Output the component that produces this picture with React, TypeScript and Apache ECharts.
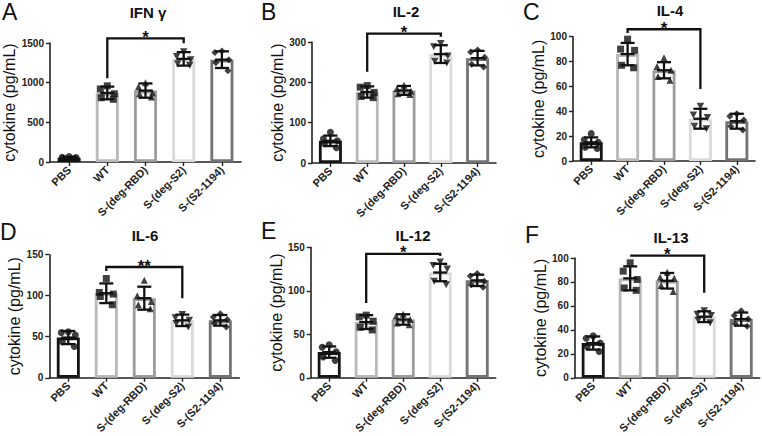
import React, { useEffect, useRef } from 'react';
import * as echarts from 'echarts';

const FONT = '"Liberation Sans", Arial, Helvetica, sans-serif';

const groups = ['PBS', 'WT', 'S-(deg-RBD)', 'S-(deg-S2)', 'S-(S2-1194)'];
const groupColors = ['#151515', '#b9b9b9', '#9c9c9c', '#dadada', '#737373'];
const groupSymbols = ['circle', 'rect', 'triangle', 'path://M0,0L10,0L5,9Z', 'diamond'];
const jitter = [0, -7, 7, -6, 6];

// A: IFN γ
const ifnMeans = [55, 870, 900, 1300, 1290];
const ifnSD = [12, 80, 90, 85, 105];
const ifnPoints = [[70, 60, 55, 45, 40], [960, 920, 860, 810, 790], [1000, 950, 870, 860, 820], [1390, 1330, 1290, 1240, 1220], [1400, 1380, 1290, 1250, 1150]];
const ifnBracket = [1, 3, 1559, 1055, 1496];

// B: IL-2
const il2Means = [55, 176, 180, 270, 260];
const il2SD = [13, 14, 11, 22, 18];
const il2Points = [[76, 60, 55, 48, 38], [192, 188, 175, 165, 162], [193, 185, 178, 172, 170], [296, 288, 265, 252, 248], [280, 275, 262, 245, 238]];
const il2Bracket = [1, 3, 321, 226, 313];

// C: IL-4
const il4Means = [15, 86, 73, 34, 32];
const il4SD = [4, 9, 6.5, 8, 6];
const il4Points = [[22, 17, 15, 11, 10], [98, 90, 89, 77, 75], [83, 76, 73, 68, 65], [44, 37, 35, 28, 26], [38, 36, 33, 28, 25]];
const il4Bracket = [1, 3, 106, 103, 58];

// D: IL-6
const il6Means = [49, 103, 97, 70, 70];
const il6SD = [8, 12, 14, 7, 6.5];
const il6Points = [[56, 55, 52, 44, 38], [121, 104, 102, 99, 89], [119, 100, 93, 89, 84], [77, 73, 70, 66, 62], [78, 74, 71, 66, 62]];
const il6Bracket = [1, 3, 135, 130, 97];

// E: IL-12
const il12Means = [29.5, 64, 67, 121, 112];
const il12SD = [6.5, 8, 6, 10, 6.5];
const il12Points = [[38, 35, 30, 24, 20], [72, 70, 65, 58, 55], [73, 71, 67, 63, 61], [133, 129, 125, 111, 107], [120, 117, 111, 107, 104]];
const il12Bracket = [1, 3, 142.5, 86, 140];

// F: IL-13
const il13Means = [29, 83, 81, 51, 49];
const il13SD = [5.5, 10, 6.5, 4.5, 5.5];
const il13Points = [[35, 33, 29, 26, 22], [96, 89, 82, 75, 73], [88, 84, 83, 77, 72], [56, 53, 52, 48, 46], [56, 52, 49, 45, 43]];
const il13Bracket = [1, 3, 102, 102, 71];

const panelLetters = ['A', 'B', 'C', 'D', 'E', 'F'];
const panelTitles = ['IFN γ', 'IL-2', 'IL-4', 'IL-6', 'IL-12', 'IL-13'];
const panelMax = [1500, 300, 100, 150, 150, 100];
const panelInterval = [500, 100, 20, 50, 50, 20];
const panelStars = ['*', '*', '*', '**', '*', '*'];
const panelMeans = [ifnMeans, il2Means, il4Means, il6Means, il12Means, il13Means];
const panelSD = [ifnSD, il2SD, il4SD, il6SD, il12SD, il13SD];
const panelPoints = [ifnPoints, il2Points, il4Points, il6Points, il12Points, il13Points];
const panelBrackets = [ifnBracket, il2Bracket, il4Bracket, il6Bracket, il12Bracket, il13Bracket];

// layout (pixels)
const grids = [
  { left: 50, top: 43, width: 191, height: 119 },
  { left: 312, top: 42, width: 184, height: 121 },
  { left: 573, top: 36.7, width: 182, height: 124.3 },
  { left: 49.3, top: 254.7, width: 190, height: 127.3 },
  { left: 310.7, top: 247.3, width: 185, height: 134.7 },
  { left: 574.7, top: 258, width: 185, height: 124.3 },
];
const nameGaps = [22, 23, 20, 26, 22, 23];
const titlePos = [[148, 12], [406, 11.5], [670, 10.5], [145, 235], [413, 235.3], [671, 237.5]];
const letterPos = [[2, 12], [261, 12], [523, 12], [0, 232], [261, 231], [525, 235]];

export default function App() {
  const ref = useRef<HTMLDivElement>(null);
  useEffect(() => {
    document.body.style.margin = '0';
    const chart = echarts.init(ref.current!, null, { renderer: 'svg' });

    const xAxis: any[] = [];
    const yAxis: any[] = [];
    const series: any[] = [];
    const graphic: any[] = [];

    for (let i = 0; i < 6; i++) {
      xAxis.push({
        type: 'category',
        gridIndex: i,
        data: groups,
        axisLine: { show: true, lineStyle: { color: '#222', width: 1.6 } },
        axisTick: { show: true, alignWithLabel: true, length: 4, lineStyle: { color: '#222', width: 1.4 } },
        axisLabel: { rotate: 45, interval: 0, fontSize: 11, fontWeight: 'bold', color: '#222', margin: 6, fontFamily: FONT },
      });
      yAxis.push({
        type: 'value',
        gridIndex: i,
        min: 0,
        max: panelMax[i],
        interval: panelInterval[i],
        axisLine: { show: true, lineStyle: { color: '#222', width: 1.6 } },
        axisTick: { show: true, length: 4, lineStyle: { color: '#222', width: 1.4 } },
        splitLine: { show: false },
        axisLabel: {
          fontSize: 10,
          fontWeight: 'bold',
          color: '#222',
          margin: 6,
          fontFamily: FONT,
          formatter: (v: number) => String(v),
        },
        name: 'cytokine (pg/mL)',
        nameLocation: 'middle',
        nameGap: nameGaps[i],
        nameTextStyle: { fontSize: 16, color: '#111', fontFamily: FONT },
      });

      const means = panelMeans[i];
      const sd = panelSD[i];
      series.push({
        type: 'bar',
        xAxisIndex: i,
        yAxisIndex: i,
        barWidth: 23,
        silent: true,
        data: means.map((m, j) => ({
          value: m,
          itemStyle: { color: '#ffffff', borderColor: groupColors[j], borderWidth: 2.8 },
        })),
      });
      series.push({
        type: 'scatter',
        xAxisIndex: i,
        yAxisIndex: i,
        silent: true,
        z: 4,
        data: panelPoints[i].flatMap((pts, j) =>
          pts.map((v, k) => ({
            value: [j, v],
            symbol: groupSymbols[j],
            symbolSize: j === 3 ? [7.5, 7] : 7,
            symbolOffset: [jitter[k], 0],
            itemStyle: { color: '#111' },
          }))
        ),
      });
      series.push({
        type: 'custom',
        xAxisIndex: i,
        yAxisIndex: i,
        silent: true,
        z: 5,
        data: means.map((m, j) => [j, m, sd[j]]),
        renderItem: (params: any, api: any) => {
          const j = api.value(0);
          const m = api.value(1);
          const s = api.value(2);
          const top = api.coord([j, m + s]);
          const bot = api.coord([j, m - s]);
          const mid = api.coord([j, m]);
          const hw = 7;
          const st = { stroke: '#111', lineWidth: 2.3 };
          return {
            type: 'group',
            children: [
              { type: 'line', shape: { x1: top[0], y1: top[1], x2: bot[0], y2: bot[1] }, style: st },
              { type: 'line', shape: { x1: top[0] - hw, y1: top[1], x2: top[0] + hw, y2: top[1] }, style: st },
              { type: 'line', shape: { x1: bot[0] - hw, y1: bot[1], x2: bot[0] + hw, y2: bot[1] }, style: st },
              { type: 'line', shape: { x1: mid[0] - hw, y1: mid[1], x2: mid[0] + hw, y2: mid[1] }, style: st },
            ],
          };
        },
      });
      const star = panelStars[i];
      series.push({
        type: 'custom',
        xAxisIndex: i,
        yAxisIndex: i,
        silent: true,
        clip: false,
        z: 6,
        data: [panelBrackets[i]],
        renderItem: (params: any, api: any) => {
          const a = api.value(0);
          const b = api.value(1);
          const yt = api.value(2);
          const yl = api.value(3);
          const yr = api.value(4);
          const p1 = api.coord([a, yl]);
          const p2 = api.coord([a, yt]);
          const p3 = api.coord([b, yt]);
          const p4 = api.coord([b, yr]);
          return {
            type: 'group',
            children: [
              {
                type: 'polyline',
                shape: { points: [p1, p2, p3, p4] },
                style: { stroke: '#111', lineWidth: 2.3, fill: 'none' },
              },
              {
                type: 'text',
                x: (p2[0] + p3[0]) / 2,
                y: p2[1] - 1,
                style: {
                  text: star,
                  fontSize: 17,
                  fontWeight: 'bold',
                  fontFamily: FONT,
                  fill: '#111',
                  textAlign: 'center',
                  textVerticalAlign: 'middle',
                },
              },
            ],
          };
        },
      });

      graphic.push({
        type: 'text',
        x: titlePos[i][0],
        y: titlePos[i][1],
        style: {
          text: panelTitles[i],
          fontSize: 15,
          fontWeight: 'bold',
          fontFamily: FONT,
          fill: '#111',
          textAlign: 'center',
          textVerticalAlign: 'middle',
        },
      });
      graphic.push({
        type: 'text',
        x: letterPos[i][0],
        y: letterPos[i][1],
        style: {
          text: panelLetters[i],
          fontSize: 23,
          fontFamily: FONT,
          fill: '#111',
          textAlign: 'left',
          textVerticalAlign: 'middle',
        },
      });
    }

    chart.setOption({
      animation: false,
      backgroundColor: '#ffffff',
      grid: grids.map((g) => ({ ...g, containLabel: false })),
      xAxis,
      yAxis,
      series,
      graphic,
    });
    return () => chart.dispose();
  }, []);

  return <div ref={ref} style={{ position: 'absolute', left: 0, top: 0, width: 762, height: 436 }} />;
}
